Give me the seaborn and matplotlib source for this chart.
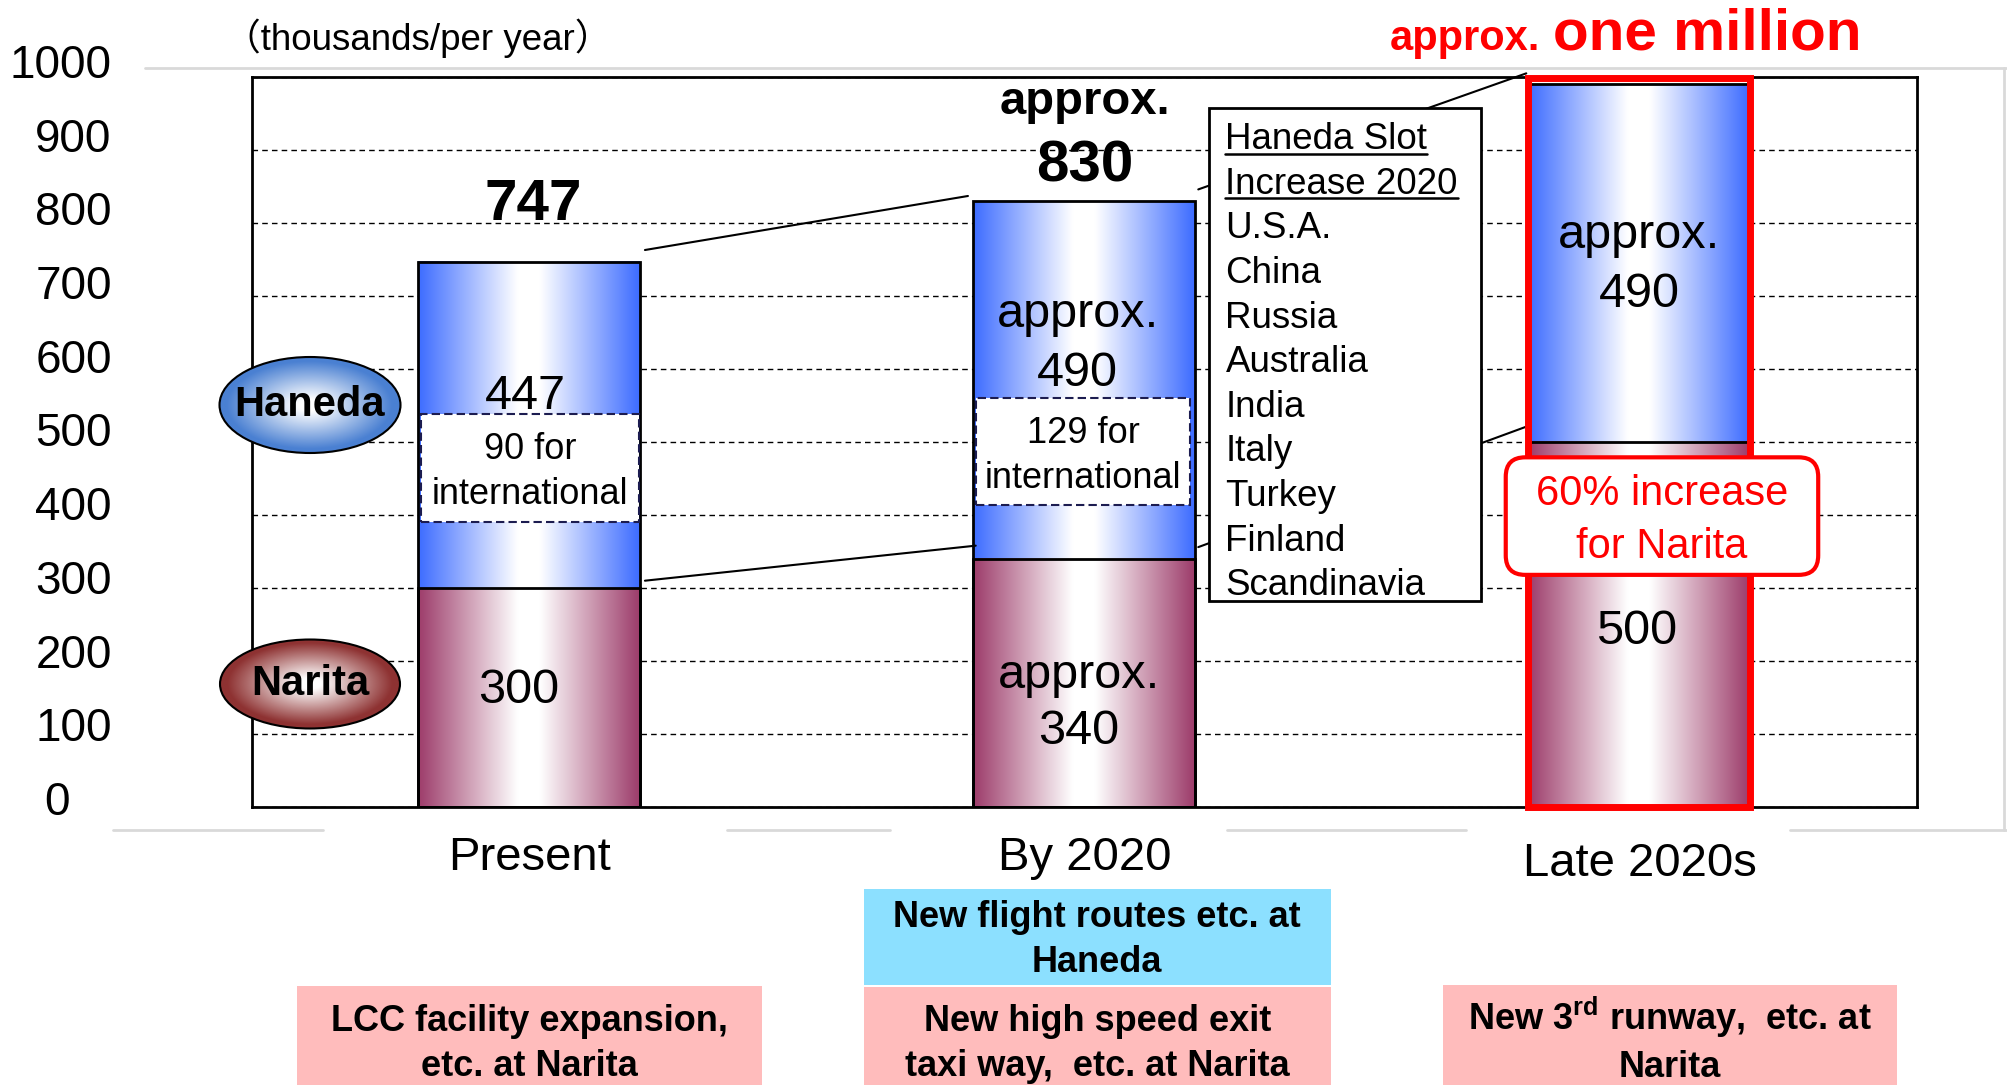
"""
Narita / Haneda airport slot capacity - stacked bar chart
"""

import numpy as np
import pandas as pd
import matplotlib
matplotlib.use('Agg')
import matplotlib.pyplot as plt
import seaborn as sns
from matplotlib.patches import Rectangle, Ellipse, FancyBboxPatch
from matplotlib.colors import LinearSegmentedColormap
from matplotlib.transforms import ScaledTranslation

# data (thousands of slots per year)
periods = ['Present', 'By 2020', 'Late 2020s']
narita = [300, 340, 500]
haneda = [447, 490, 490]
international = [90, 129, None]
narita_labels = ['300', 'approx.\n340', '500']
haneda_labels = ['447', 'approx.\n490', 'approx.\n490']
slot_title = ['Haneda Slot', 'Increase 2020']
slot_countries = ['U.S.A.', 'China', 'Russia', 'Australia', 'India',
                  'Italy', 'Turkey', 'Finland', 'Scandinavia']
measures_haneda = [None, 'New flight routes etc. at\nHaneda', None]
measures_narita = ['LCC facility expansion,\netc. at Narita',
                   'New high speed exit\ntaxi way,  etc. at Narita',
                   'New 3$^{\\mathrm{rd}}$ runway,  etc. at\nNarita']
y_ticks = list(range(0, 1001, 100))

BLUE = '#3D6CFF'
MAROON = '#9D3C6A'
RED = '#FF0000'

sns.set_style('white')
plt.rcParams['font.family'] = ['Liberation Sans', 'Noto Sans CJK JP', 'DejaVu Sans']
plt.rcParams['text.color'] = 'black'
plt.rcParams['xtick.color'] = 'black'
plt.rcParams['ytick.color'] = 'black'
plt.rcParams['axes.labelcolor'] = 'black'
plt.rcParams['mathtext.fontset'] = 'custom'
plt.rcParams['mathtext.rm'] = 'Liberation Sans:bold'
plt.rcParams['mathtext.it'] = 'Liberation Sans:bold'
plt.rcParams['mathtext.bf'] = 'Liberation Sans:bold'

W, H = 2008, 1085
fig = plt.figure(figsize=(W / 100, H / 100), dpi=100)

# main axes (pixel box 252..1917 x 77..807)
AX_L, AX_R, AX_T, AX_B = 252, 1917, 77, 807
ax = fig.add_axes([AX_L / W, 1 - AX_B / H, (AX_R - AX_L) / W, (AX_B - AX_T) / H])

df = pd.DataFrame({'period': periods, 'narita': narita, 'haneda': haneda})
df['total'] = df['narita'] + df['haneda']

sns.barplot(data=df, x='period', y='total', color=BLUE, width=0.4, saturation=1,
            edgecolor='black', linewidth=2, ax=ax)
sns.barplot(data=df, x='period', y='narita', color=MAROON, width=0.4, saturation=1,
            edgecolor='black', linewidth=2, ax=ax)


def side_gradient(edge):
    return LinearSegmentedColormap.from_list(
        'g', [(0, edge), (0.45, 'white'), (0.55, 'white'), (1, edge)])


grad = np.linspace(0, 1, 256).reshape(1, -1)
bars = ax.patches[:6]
for i, p in enumerate(bars):
    x0, w = p.get_x(), p.get_width()
    if i < 3:
        y0, y1 = narita[i], p.get_height()
        cmap = side_gradient(BLUE)
    else:
        y0, y1 = 0, p.get_height()
        cmap = side_gradient(MAROON)
    ax.imshow(grad, cmap=cmap, aspect='auto', extent=(x0, x0 + w, y0, y1),
              zorder=1.1, interpolation='bicubic')
    p.set_facecolor('none')
    p.set_zorder(1.3)

ax.set_xlim(-0.5, 2.5)
ax.set_ylim(0, 1000)
ax.set_xlabel('')
ax.set_ylabel('')
ax.set_yticks(y_ticks)
ax.set_yticklabels([])
ax.tick_params(axis='y', length=0)
ax.tick_params(axis='x', length=0, labelsize=34, pad=21, labelcolor='black')
ax.set_axisbelow(True)
ax.grid(axis='y', color='black', linestyle=(0, (4, 3)), linewidth=1)
for s in ax.spines.values():
    s.set_visible(True)
    s.set_color('black')
    s.set_linewidth(2)
late_lbl = ax.get_xticklabels()[2]
late_lbl.set_transform(late_lbl.get_transform() + ScaledTranslation(0, -0.06, fig.dpi_scale_trans))

# international boxes inside Haneda bars
intl_box = [(-0.195, 391, 0.392, 148), (0.805, 414, 0.385, 146)]
for (bx, by, bw, bh), val in zip(intl_box, international[:2]):
    ax.add_patch(Rectangle((bx, by), bw, bh, fc='white', ec='#1c1c50', lw=1.5,
                           ls=(0, (4, 2)), zorder=1.5))
    ax.text(bx + bw / 2, by + bh / 2 - 6, f'{val} for\ninternational', ha='center',
            va='center', fontsize=26, linespacing=1.35, zorder=1.6)

# segment labels
ax.text(-0.007, 562, haneda_labels[0], ha='center', va='center', fontsize=35, zorder=2)
ax.text(-0.02, 160, narita_labels[0], ha='center', va='center', fontsize=35, zorder=2)
ax.text(0.988, 634, haneda_labels[1], ha='center', va='center', fontsize=35,
        linespacing=1.4, zorder=2)
ax.text(0.99, 142, narita_labels[1], ha='center', va='center', fontsize=35,
        linespacing=1.3, zorder=2)
ax.text(1.999, 742, haneda_labels[2], ha='center', va='center', fontsize=35,
        linespacing=1.4, zorder=2)
ax.text(1.994, 240, narita_labels[2], ha='center', va='center', fontsize=35, zorder=2)

# totals
ax.text(0.006, 825, str(df['total'][0]), ha='center', va='center', fontsize=42,
        fontweight='bold', clip_on=False)
ax.text(1.0, 966, 'approx.', ha='center', va='center', fontsize=34,
        fontweight='bold', clip_on=False)
ax.text(1.0, 877, str(df['total'][1]), ha='center', va='center', fontsize=42,
        fontweight='bold', clip_on=False)

# connector lines
line_kw = dict(color='black', lw=1.5, clip_on=False, zorder=2.5)
ax.plot([0.208, 0.790], [763, 837], **line_kw)
ax.plot([0.208, 0.804], [310, 358], **line_kw)
ax.plot([1.205, 1.796], [846, 1005], **line_kw)
ax.plot([1.205, 1.796], [356, 521], **line_kw)

# Haneda slot list box
ax.add_patch(Rectangle((1.224, 282), 0.491, 676, fc='white', ec='black', lw=2,
                       zorder=4, clip_on=False))
list_items = slot_title + slot_countries
list_texts = []
for k, item in enumerate(list_items):
    t = ax.text(1.254, 901 - 61.1 * k, item, ha='left', va='baseline',
                fontsize=26.5, zorder=5)
    list_texts.append(t)

# red frame around late 2020s bar
ax.add_patch(Rectangle((1.8, 0), 0.4, 998, fill=False, ec=RED, lw=5, zorder=3,
                       clip_on=False))

# 60% increase box
ax_w_px, ax_h_px = AX_R - AX_L, AX_B - AX_T
aspect = (1000 / ax_h_px) / (3 / ax_w_px)
ax.add_patch(FancyBboxPatch((1.759, 318), 0.563, 161,
                            boxstyle='round,pad=0,rounding_size=0.035',
                            mutation_aspect=aspect, fc='white', ec=RED, lw=3,
                            zorder=6, clip_on=False))
ax.text(2.04, 392, '60% increase\nfor Narita', ha='center', va='center',
        fontsize=30, color=RED, linespacing=1.42, zorder=7)

# left value axis (separate, as in the slide)
ay = fig.add_axes([145 / W, 1 - 798 / H, 0.0005, 737 / H])
ay.set_ylim(0, 1000)
ay.set_yticks(y_ticks)
ay.set_yticklabels([str(v) for v in y_ticks])
ay.set_xticks([])
for s in ay.spines.values():
    s.set_visible(False)
ay.patch.set_alpha(0)
ay.tick_params(axis='y', length=6, color='#DDDDDD', width=1.5, pad=18, labelsize=33,
               labelcolor='black')
lbl0 = ay.get_yticklabels()[0]
lbl0.set_transform(lbl0.get_transform() + ScaledTranslation(-0.42, 0, fig.dpi_scale_trans))

# overlay in pixel coordinates for slide annotations
ov = fig.add_axes([0, 0, 1, 1], zorder=3)
ov.set_xlim(0, W)
ov.set_ylim(H, 0)
ov.axis('off')
ov.patch.set_alpha(0)

# faint slide frame
gray = dict(color='#D9D9D9', lw=2, zorder=0)
ov.plot([145, W], [68, 68], **gray)
ov.plot([2004, 2004], [68, 830], **gray)
for a, b in [(113, 323), (727, 890), (1227, 1466), (1790, W)]:
    ov.plot([a, b], [830, 830], **gray)

ov.text(418, 38, '（thousands/per year）', ha='center', va='center', fontsize=26.5)

# red headline
ov.text(1540, 50, 'approx.', ha='right', va='baseline', fontsize=30,
        fontweight='bold', color=RED)
ov.text(1553, 50, 'one million', ha='left', va='baseline', fontsize=42,
        fontweight='bold', color=RED)

# legend ellipses with radial gradient
yy, xx = np.mgrid[-1:1:200j, -1:1:200j]
rad = np.clip((np.sqrt(xx ** 2 + yy ** 2) - 0.12) / 0.8, 0, 1)
for name, (cx, cy, ew, eh), col in [('Haneda', (310, 405, 181, 96), '#4A80D2'),
                                   ('Narita', (310, 684, 180, 89), '#8E3232')]:
    ell = Ellipse((cx, cy), ew, eh, fc='none', ec='black', lw=1.5, zorder=2)
    ov.add_patch(ell)
    cm = LinearSegmentedColormap.from_list('r', ['white', col])
    im = ov.imshow(rad, cmap=cm, extent=(cx - ew / 2, cx + ew / 2, cy + eh / 2, cy - eh / 2),
                   aspect='auto', zorder=1, interpolation='bicubic')
    im.set_clip_path(ell)
    ov.text(cx, cy, name, ha='center', va='center', fontsize=30, fontweight='bold', zorder=3)
ov.set_xlim(0, W)
ov.set_ylim(H, 0)

# measure boxes under categories
ov.add_patch(Rectangle((864, 889), 467, 96, fc='#8CE0FF', ec='none'))
ov.text(1097, 940, measures_haneda[1], ha='center', va='center', fontsize=26,
        fontweight='bold', linespacing=1.35)
pink_boxes = [(297, 986, 465), (864, 987, 467), (1443, 985, 454)]
pink_text_y = [1044, 1044, 1040]
for (bx, by, bw), txt, ty in zip(pink_boxes, measures_narita, pink_text_y):
    ov.add_patch(Rectangle((bx, by), bw, H - by + 5, fc='#FFBCBC', ec='none'))
    ov.text(bx + bw / 2, ty, txt, ha='center', va='center', fontsize=26,
            fontweight='bold', linespacing=1.35)

# underline the list title
fig.canvas.draw()
renderer = fig.canvas.get_renderer()
inv = ax.transData.inverted()
for t in list_texts[:2]:
    bb = t.get_window_extent(renderer)
    x0 = inv.transform((bb.x0, 0))[0]
    x1 = inv.transform((bb.x1, 0))[0]
    yb = t.get_position()[1] - 6
    ax.plot([x0, x1], [yb, yb], color='black', lw=1.8, zorder=5, clip_on=False)

fig.savefig('out.png', dpi=100)
